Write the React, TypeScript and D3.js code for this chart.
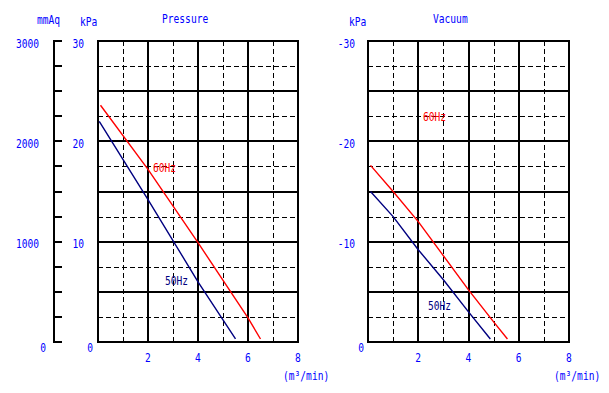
import React from 'react'
import * as d3 from 'd3'

// flow in m³/min, pressure / vacuum in kPa
const flowTicks = [2, 4, 6, 8]
const pressureTicks = [0, 10, 20, 30]
const mmAqTicks = [0, 1000, 2000, 3000]
const vacuumTickLabels = ['0', '-10', '-20', '-30']

const pressureFlow60 = [0.1, 2, 4, 6, 6.5]
const pressureKpa60 = [23.6, 17.2, 9.9, 2.4, 0.3]
const pressureFlow50 = [0.05, 2, 4, 5.5]
const pressureKpa50 = [22.0, 14.2, 6.0, 0.3]

const vacuumFlow60 = [0.1, 1, 2, 4, 5, 5.55]
const vacuumKpa60 = [17.6, 15.0, 12.0, 5.2, 2.0, 0.3]
const vacuumFlow50 = [0.1, 1, 2, 3, 4, 4.87]
const vacuumKpa50 = [15.0, 12.5, 9.2, 6.2, 3.0, 0.3]

const BLUE = '#0000ff'
const NAVY = '#000080'
const RED = '#ff0000'
const FONT = '"DejaVu Sans Mono", monospace'
const FS = 12

const zip = (xs: number[], ys: number[]) => xs.map((x, i) => [x, ys[i]] as [number, number])

// the original uses a tall narrow plotter font, so squeeze the mono font sideways
function Txt({ x, y, fill = BLUE, anchor = 'start', children }: any) {
  return (
    <text transform={`translate(${x},${y}) scale(0.8,1)`} textAnchor={anchor} fill={fill}
      fontFamily={FONT} fontSize={FS}>{children}</text>
  )
}

type PanelProps = {
  left: number
  right: number
  title: string
  titleX: number
  yLabels: string[]
  yLabelX: number
  zeroX: number
  kpaX: number
  unitX: number
  curve60: [number, number][]
  curve50: [number, number][]
  label60: [number, number]
  label50: [number, number]
}

function Panel(props: PanelProps) {
  const { left, right, curve60, curve50 } = props
  const x = d3.scaleLinear().domain([0, 8]).range([left, right])
  const y = d3.scaleLinear().domain([0, 30]).range([342, 41])
  const line = d3.line<[number, number]>().x(d => x(d[0])).y(d => y(d[1]))

  const vLines = d3.range(0, 9, 1)
  const hLines = d3.range(0, 30.01, 2.5)

  return (
    <g>
      <g shapeRendering="crispEdges">
        {hLines.filter(v => v % 5 !== 0).map(v => (
          <line key={'hd' + v} x1={x(0)} x2={x(8)} y1={Math.round(y(v)) + 0.5} y2={Math.round(y(v)) + 0.5}
            stroke="#000" strokeWidth={1} strokeDasharray="5,3" />
        ))}
        {vLines.filter(v => v % 2 !== 0).map(v => (
          <line key={'vd' + v} x1={Math.round(x(v)) + 0.5} x2={Math.round(x(v)) + 0.5} y1={y(30)} y2={y(0)}
            stroke="#000" strokeWidth={1} strokeDasharray="5,3" />
        ))}
        {hLines.filter(v => v % 5 === 0).map(v => (
          <line key={'h' + v} x1={x(0) - 1} x2={x(8) + 1} y1={Math.round(y(v))} y2={Math.round(y(v))}
            stroke="#000" strokeWidth={2} />
        ))}
        {vLines.filter(v => v % 2 === 0).map(v => (
          <line key={'v' + v} x1={Math.round(x(v))} x2={Math.round(x(v))} y1={y(30) - 1} y2={y(0) + 1}
            stroke="#000" strokeWidth={2} />
        ))}
      </g>

      <path d={line(curve50) || ''} fill="none" stroke={NAVY} strokeWidth={1.4} />
      <path d={line(curve60) || ''} fill="none" stroke={RED} strokeWidth={1.4} />

      <Txt x={props.label60[0]} y={props.label60[1]} fill={RED}>60Hz</Txt>
      <Txt x={props.label50[0]} y={props.label50[1]} fill={NAVY}>50Hz</Txt>

      <Txt x={props.titleX} y={23}>{props.title}</Txt>
      <Txt x={props.kpaX} y={26}>kPa</Txt>

      {pressureTicks.map((v, i) => (
        <Txt key={'yl' + v} x={v === 0 ? props.zeroX : props.yLabelX} y={v === 0 ? 352 : y(v) + 6.5}
          anchor="end">{props.yLabels[i]}</Txt>
      ))}
      {flowTicks.map(v => (
        <Txt key={'xl' + v} x={x(v)} y={362} anchor="middle">{v}</Txt>
      ))}
      <Txt x={props.unitX} y={380}>(m³/min)</Txt>
    </g>
  )
}

export default function App() {
  const y = d3.scaleLinear().domain([0, 3000]).range([342, 41])
  const mmTicks = d3.range(0, 3001, 250)

  return (
    <svg width={609} height={393} style={{ display: 'block', position: 'absolute', left: 0, top: 0, background: '#fff' }}>
      <rect width={609} height={393} fill="#fff" />

      {/* mmAq side axis */}
      <g shapeRendering="crispEdges">
        <line x1={54} x2={54} y1={y(3000) - 1} y2={y(0) + 1} stroke="#000" strokeWidth={2} />
        {mmTicks.map(v => (
          <line key={v} x1={54} x2={62} y1={Math.round(y(v))} y2={Math.round(y(v))} stroke="#000" strokeWidth={2} />
        ))}
      </g>
      <Txt x={37} y={24}>mmAq</Txt>
      {mmAqTicks.map(v => (
        <Txt key={v} x={v === 0 ? 46 : 39} y={v === 0 ? 352 : y(v) + 6.5} anchor="end">{v}</Txt>
      ))}

      <Panel left={98} right={298} title="Pressure" titleX={162} yLabels={pressureTicks.map(String)}
        yLabelX={84} zeroX={93} kpaX={80} unitX={283}
        curve60={zip(pressureFlow60, pressureKpa60)} curve50={zip(pressureFlow50, pressureKpa50)}
        label60={[153, 172]} label50={[165, 285]} />

      <Panel left={368} right={569} title="Vacuum" titleX={433} yLabels={vacuumTickLabels}
        yLabelX={355} zeroX={364} kpaX={349} unitX={554}
        curve60={zip(vacuumFlow60, vacuumKpa60)} curve50={zip(vacuumFlow50, vacuumKpa50)}
        label60={[423, 121]} label50={[428, 310]} />
    </svg>
  )
}
